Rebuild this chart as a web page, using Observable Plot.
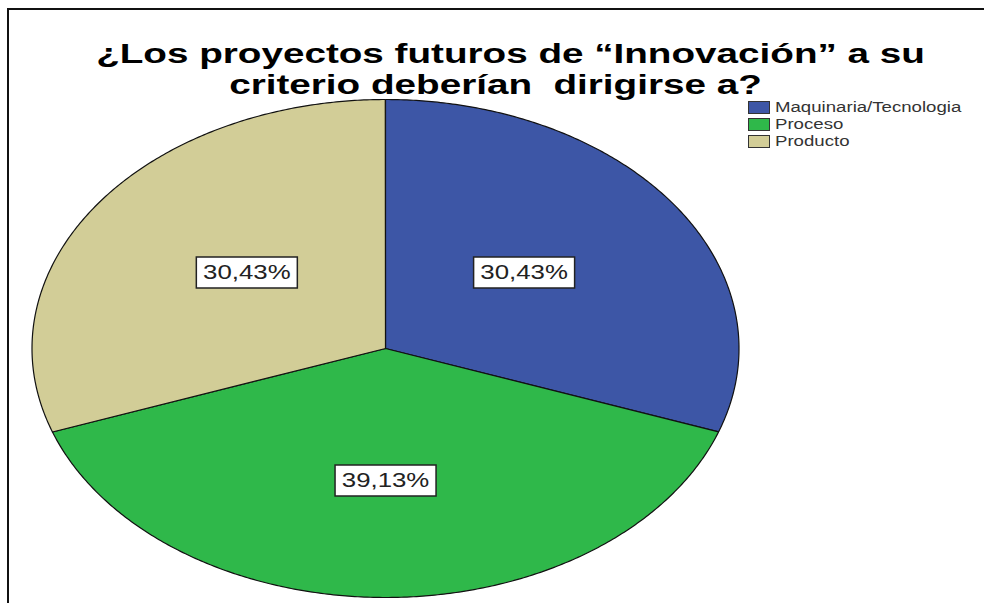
<!DOCTYPE html>
<html><head><meta charset="utf-8">
<script src="https://cdn.jsdelivr.net/npm/d3@7"></script>
<script src="https://cdn.jsdelivr.net/npm/@observablehq/plot@0.6"></script>
<style>
body{margin:0;background:#fff;}
#wrap{position:relative;width:984px;height:603px;overflow:hidden;background:#fff;font-family:"Liberation Sans",Arial,sans-serif;}
#frame{position:absolute;left:7px;top:8px;width:1000px;height:620px;border-top:2px solid #111;border-left:2px solid #111;}
#chart{position:absolute;left:0;top:0;}
#chart svg{white-space:pre;}
#legend{position:absolute;left:748px;top:101px;}
.row{position:relative;height:17px;}
.sw{position:absolute;left:0;top:0;width:22px;height:13px;box-sizing:border-box;border:1.5px solid #333;}
.lt{position:absolute;left:27px;top:-2px;font-size:14px;line-height:17px;color:#333;white-space:nowrap;transform:scaleX(1.33);transform-origin:left center;}
</style></head><body>
<div id="wrap"><div id="chart"></div><div id="frame"></div><div id="legend"></div></div>
<script>
const titleLines = ["¿Los proyectos futuros de “Innovación” a su", "criterio deberían  dirigirse a?"];
const categories = ["Maquinaria/Tecnologia", "Proceso", "Producto"];
const percents = [30.43, 39.13, 30.43];
const labelTexts = ["30,43%", "39,13%", "30,43%"];
const colors = ["#3d56a6", "#2fb84a", "#d2cd97"];

// build slice outlines (angles clockwise from 12 o'clock) on a unit ellipse
const slices = [];
const labelData = [];
let cum = 0;
categories.forEach((cat, i) => {
  const a0 = cum / 100 * 2 * Math.PI;
  cum += percents[i];
  const a1 = cum / 100 * 2 * Math.PI;
  slices.push({cat, x: 0, y: 0});
  const steps = Math.max(2, Math.ceil((a1 - a0) / (Math.PI / 360)));
  for (let k = 0; k <= steps; k++) {
    const a = a0 + (a1 - a0) * k / steps;
    slices.push({cat, x: Math.sin(a), y: Math.cos(a)});
  }
  const am = (a0 + a1) / 2;
  labelData.push({cat, text: labelTexts[i], x: Math.sin(am) * 0.48, y: Math.cos(am) * 0.53});
});

const boxSymbol = {draw(ctx) {
  ctx.moveTo(-50.5, -15.5); ctx.lineTo(50.5, -15.5); ctx.lineTo(50.5, 15.5); ctx.lineTo(-50.5, 15.5); ctx.closePath();
}};

const plot = Plot.plot({
  width: 984, height: 603,
  marginTop: 0, marginRight: 0, marginBottom: 0, marginLeft: 0,
  style: {background: "transparent", fontFamily: "'Liberation Sans', Arial, sans-serif"},
  x: {domain: [-1, 1], range: [31.5, 738.5], axis: null},
  y: {domain: [-1, 1], range: [597, 99], axis: null},
  color: {domain: categories, range: colors},
  marks: [
    Plot.line(slices, {x: "x", y: "y", z: "cat", fill: "cat", stroke: "#111", strokeWidth: 1.2, curve: "linear-closed"}),
    Plot.dot(labelData, {x: "x", y: "y", symbol: boxSymbol, fill: "white", stroke: "#222", strokeWidth: 1.5}),
    Plot.text(labelData, {x: "x", y: "y", text: "text", fontSize: 20, fill: "#222"}),
    Plot.text([titleLines[0]], {frameAnchor: "top", lineAnchor: "middle", text: d => d, dx: 18, dy: 53.5, fontSize: 28, fontWeight: "bold", fill: "#000"}),
    Plot.text([titleLines[1]], {frameAnchor: "top", lineAnchor: "middle", text: d => d, dx: 3, dy: 85, fontSize: 28, fontWeight: "bold", fill: "#000"})
  ]
});
document.getElementById("chart").appendChild(plot);

// horizontal stretch of text, as in the reference
plot.querySelectorAll("text").forEach(t => {
  const len = t.getComputedTextLength();
  const k = t.closest("[font-size='28']") ? 1.38 : 1.29;
  if (len > 0) { t.setAttribute("textLength", (len * k).toFixed(1)); t.setAttribute("lengthAdjust", "spacingAndGlyphs"); }
});

// legend
const legend = d3.select("#legend");
categories.forEach((c, i) => {
  const row = legend.append("div").attr("class", "row");
  row.append("div").attr("class", "sw").style("background", colors[i]);
  row.append("div").attr("class", "lt").text(c);
});
</script>
</body></html>
